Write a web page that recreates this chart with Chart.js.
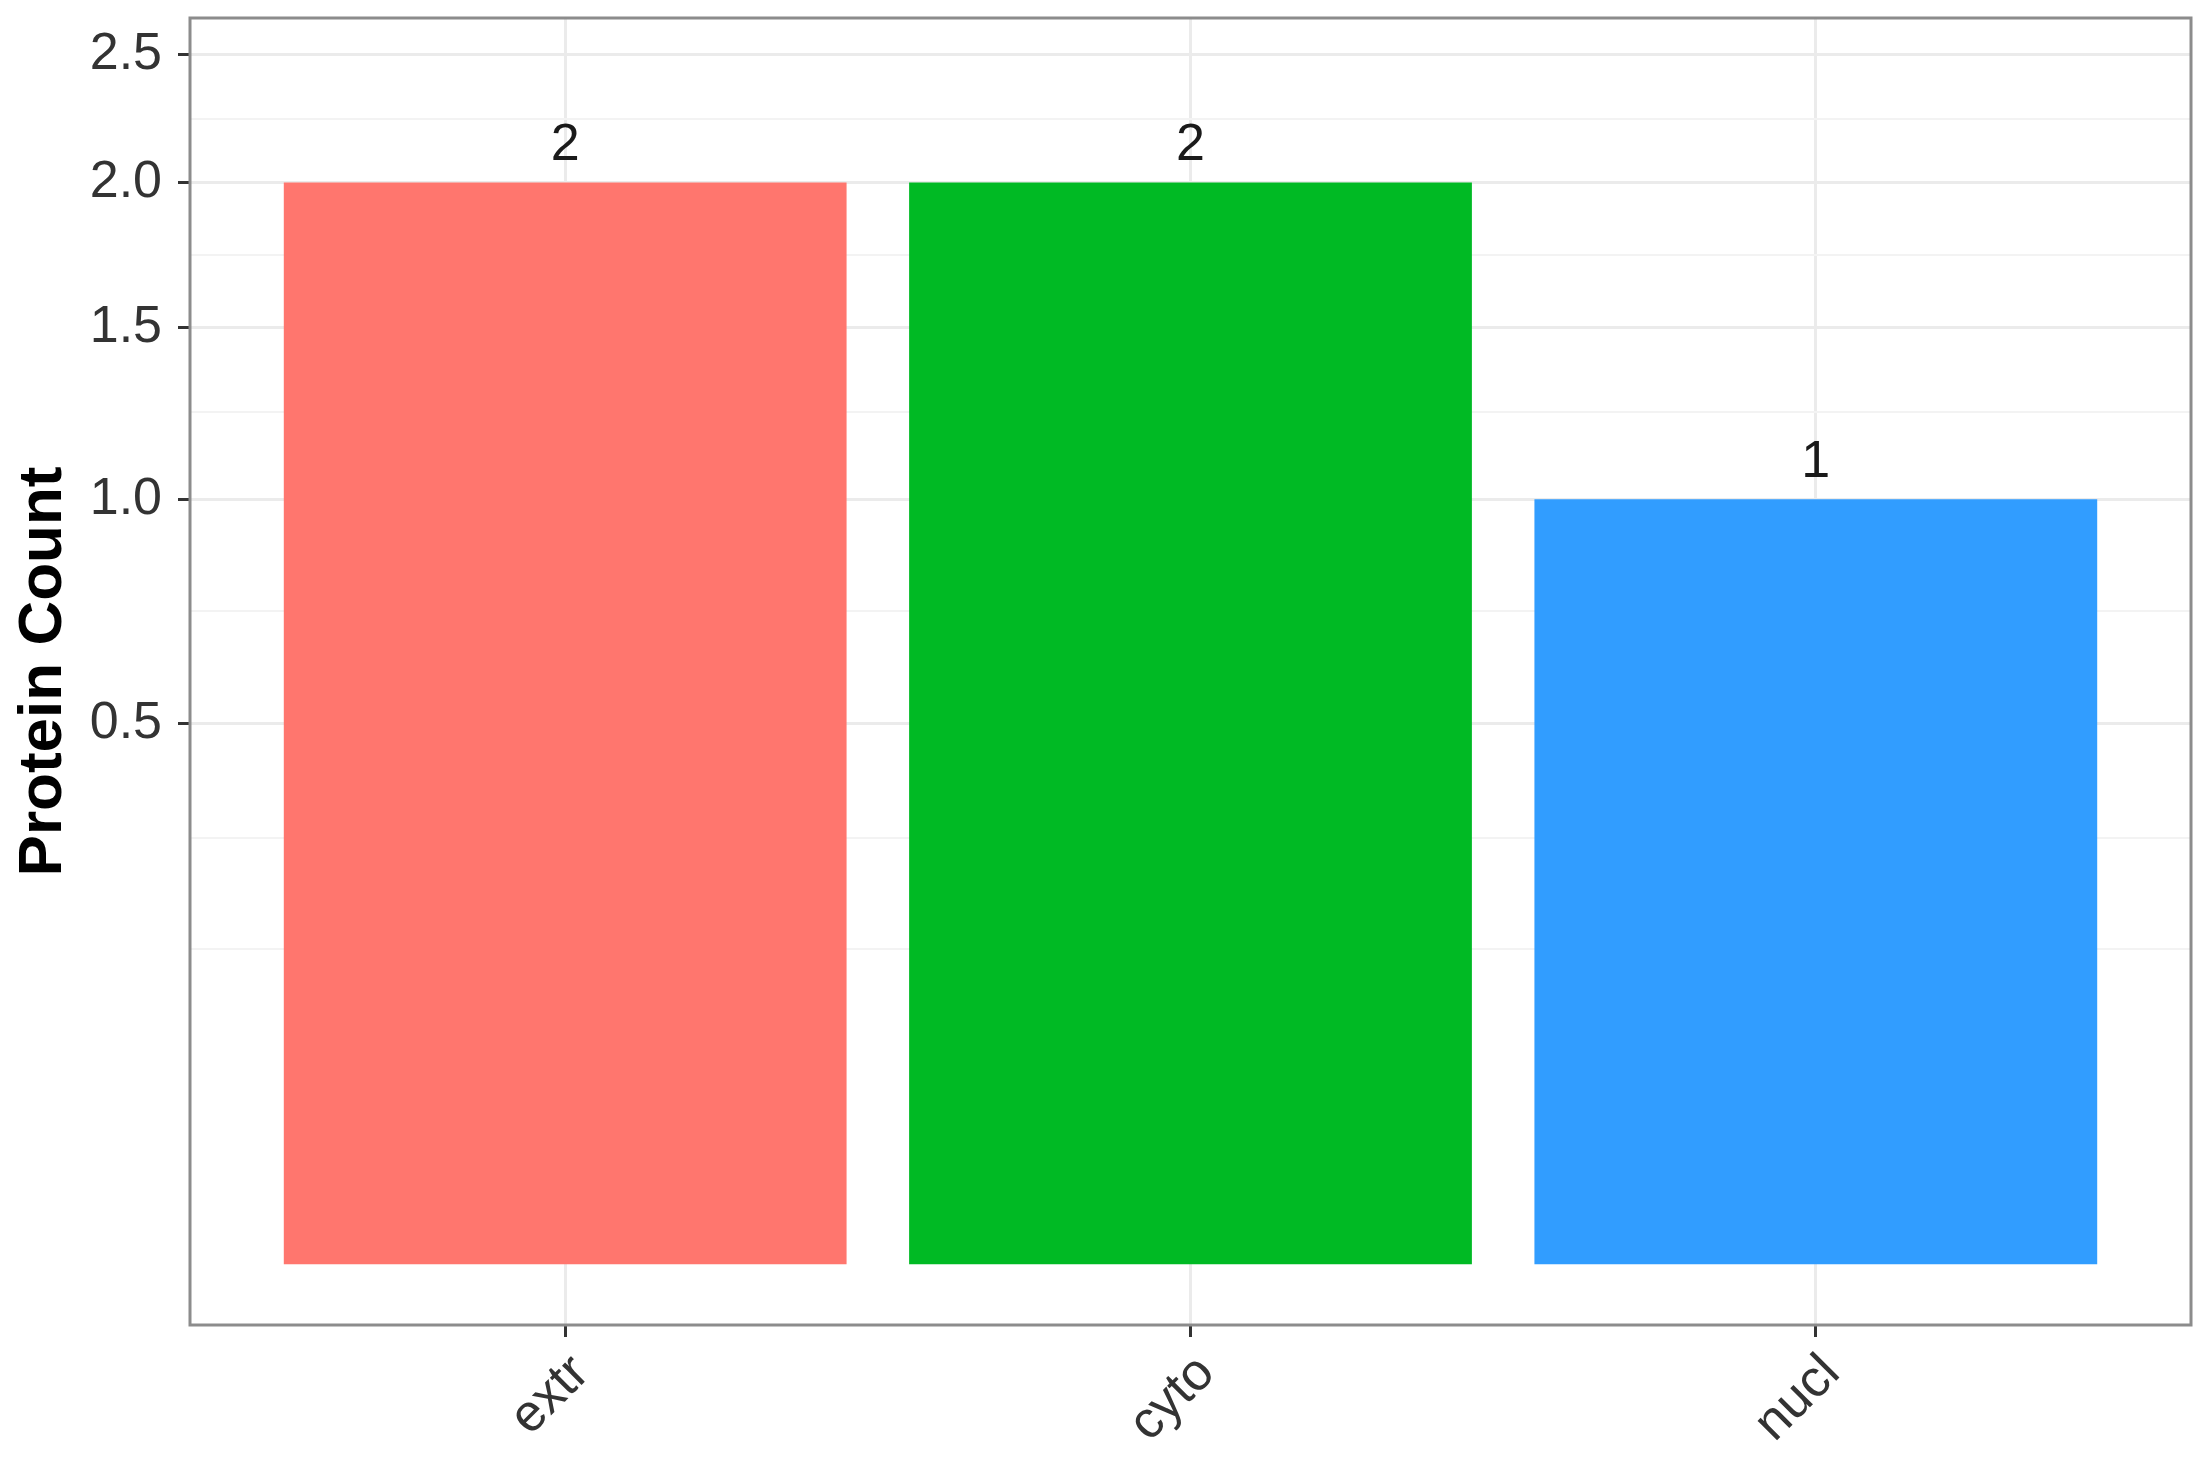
<!DOCTYPE html>
<html>
<head>
<meta charset="utf-8">
<title>Protein Count</title>
<script src="https://cdn.jsdelivr.net/npm/chart.js@4.4.0/dist/chart.umd.min.js"></script>
<style>
  body { margin: 0; background: #fff; }
  #wrap { width: 2212px; height: 1464px; position: relative; }
</style>
</head>
<body>
<div id="wrap"><canvas id="chart"></canvas></div>
<script>
// ===== DATA =====
const categories = ['extr', 'cyto', 'nucl'];
const counts = [2, 2, 1];
const barColors = ['#FF766E', '#00BA24', '#319DFF'];
const yMajorTicks = [0.5, 1.0, 1.5, 2.0, 2.5];
const yMinorTicks = [0.17, 0.31, 0.73, 1.24, 1.74, 2.24];
const yTitle = 'Protein Count';

const FONT = "'Liberation Sans', Arial, sans-serif";

// signed square root, so the expanded range can dip a little below zero like ggplot
const ssqrt = v => Math.sign(v) * Math.sqrt(Math.abs(v));

class SqrtScale extends Chart.LinearScale {
    determineDataLimits() {
        this.min = this.options.min;
        this.max = this.options.max;
    }
    buildTicks() {
        return [...yMinorTicks, ...yMajorTicks].sort((a, b) => a - b).map(v => ({ value: v }));
    }
    configure() {
        super.configure();
        this._tMin = ssqrt(this.min);
        this._tMax = ssqrt(this.max);
    }
    getPixelForValue(v) {
        return this.getPixelForDecimal((ssqrt(v) - this._tMin) / (this._tMax - this._tMin));
    }
    getValueForPixel(p) {
        const t = this._tMin + this.getDecimalForPixel(p) * (this._tMax - this._tMin);
        return Math.sign(t) * t * t;
    }
}
SqrtScale.id = 'sqrt';
Chart.register(SqrtScale);

const isMinor = v => yMinorTicks.includes(v);

// value labels above bars
const barLabels = {
    id: 'barLabels',
    afterDatasetsDraw(chart) {
        const ctx = chart.ctx;
        ctx.save();
        ctx.font = `52px ${FONT}`;
        ctx.fillStyle = '#1a1a1a';
        ctx.textAlign = 'center';
        ctx.textBaseline = 'alphabetic';
        chart.getDatasetMeta(0).data.forEach((bar, i) => {
            ctx.fillText(String(counts[i]), bar.x, bar.y - 22);
        });
        ctx.restore();
    }
};

// panel border on all four sides
const panelBorder = {
    id: 'panelBorder',
    afterDraw(chart) {
        const { ctx, chartArea: a } = chart;
        ctx.save();
        ctx.strokeStyle = '#8c8c8c';
        ctx.lineWidth = 3;
        ctx.strokeRect(a.left, a.top, a.right - a.left, a.bottom - a.top);
        ctx.restore();
    }
};

function noPad(s) {
    s.paddingTop = 0; s.paddingBottom = 0; s.paddingLeft = 0; s.paddingRight = 0;
}

new Chart(document.getElementById('chart'), {
    type: 'bar',
    data: {
        datasets: [{
            data: categories.map((c, i) => ({ x: i + 1, y: counts[i] })),
            backgroundColor: barColors,
            borderWidth: 0,
            categoryPercentage: 1,
            barPercentage: 0.9,
        }]
    },
    options: {
        responsive: true,
        maintainAspectRatio: false,
        devicePixelRatio: 1,
        animation: false,
        layout: { padding: { top: 18, right: 21, left: 0, bottom: 0 } },
        plugins: {
            legend: { display: false },
            tooltip: { enabled: false },
        },
        scales: {
            x: {
                type: 'linear',
                min: 0.4,
                max: 3.6,
                offset: false,
                afterBuildTicks: s => { s.ticks = categories.map((c, i) => ({ value: i + 1 })); },
                afterFit: s => { s.height = 139; noPad(s); },
                border: { display: false },
                grid: { offset: false, color: '#ebebeb', lineWidth: 3, tickColor: '#333', tickWidth: 3, tickLength: 12 },
                ticks: {
                    autoSkip: false,
                    minRotation: 45,
                    maxRotation: 45,
                    padding: 6,
                    labelOffset: 16,
                    color: '#333',
                    font: { family: FONT, size: 52 },
                    callback: v => categories[v - 1],
                },
            },
            y: {
                type: 'sqrt',
                min: -0.0063,
                max: 2.654,
                afterFit: s => { s.width = 190; noPad(s); },
                border: { display: false },
                grid: {
                    color: c => c.tick && isMinor(c.tick.value) ? '#f3f3f3' : '#ebebeb',
                    lineWidth: c => c.tick && isMinor(c.tick.value) ? 2 : 3,
                    tickColor: c => c.tick && isMinor(c.tick.value) ? 'rgba(0,0,0,0)' : '#333',
                    tickWidth: 3,
                    tickLength: 12,
                },
                ticks: {
                    padding: 16,
                    color: '#333',
                    font: { family: FONT, size: 52 },
                    callback: v => isMinor(v) ? '' : v.toFixed(1),
                },
                title: {
                    display: true,
                    text: yTitle,
                    color: '#000',
                    font: { family: FONT, size: 62, weight: 'bold' },
                    padding: { top: 7, bottom: 0 },
                },
            },
        },
    },
    plugins: [barLabels, panelBorder],
});
</script>
</body>
</html>
